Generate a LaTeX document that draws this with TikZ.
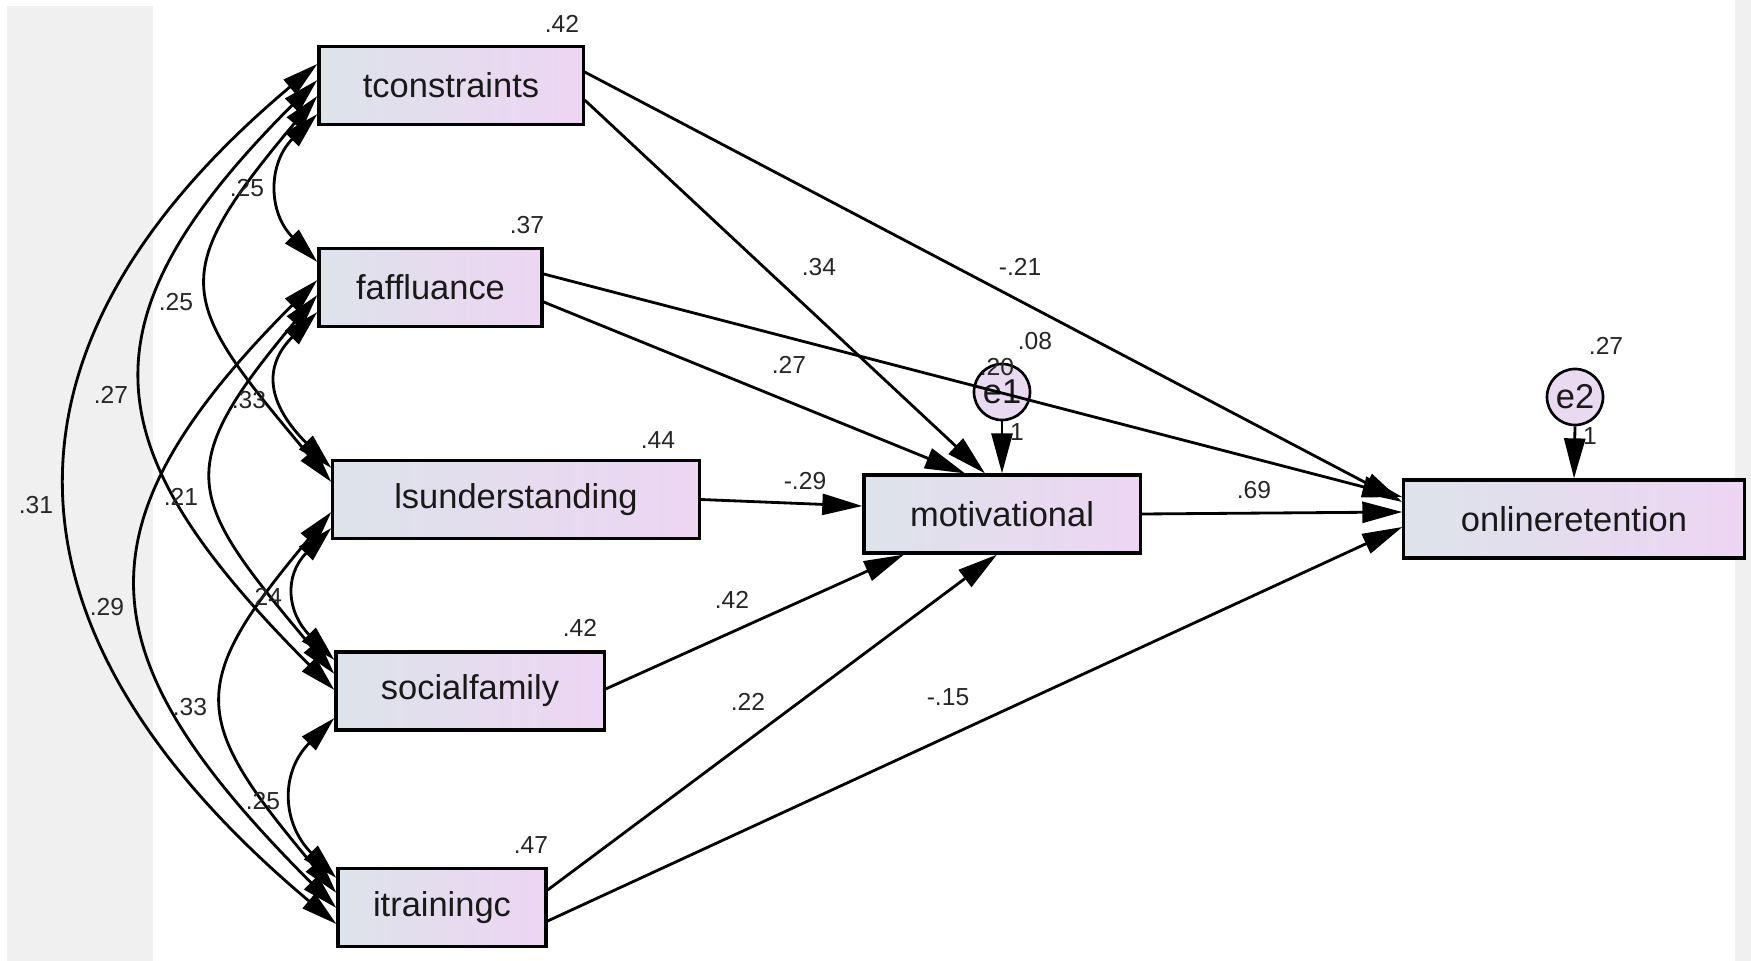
\documentclass[tikz,border=0pt]{standalone}
\usepackage{fontspec}
\setmainfont{Liberation Sans}
\usetikzlibrary{arrows.meta}
\definecolor{boxleft}{HTML}{DDE3EA}
\definecolor{boxright}{HTML}{EDD5F3}
\definecolor{errfill}{HTML}{E9D9F1}
\definecolor{framegray}{HTML}{F0F0F0}
\tikzset{
  var/.style={draw, line width=0.9pt, left color=boxleft, right color=boxright,
    inner sep=0pt, minimum height=0.78cm, text=black!90,
    font=\fontsize{9.8}{11}\selectfont},
  err/.style={draw, circle, line width=0.75pt, fill=errfill, minimum size=0.56cm,
    inner sep=0pt, text=black!90, font=\fontsize{9.8}{11}\selectfont},
  est/.style={inner sep=0pt, text=black!85, font=\fontsize{7}{8}\selectfont},
  reg/.style={line width=0.8pt, -{Triangle[length=0.4cm,width=0.21cm]}},
  cov/.style={line width=0.8pt,
    {Triangle[length=0.36cm,width=0.19cm]}-{Triangle[length=0.36cm,width=0.19cm]}},
}
\begin{document}
\begin{tikzpicture}[x=0.01cm, y=0.01cm]
    \useasboundingbox (0,0) rectangle (1751,-961);
    \fill[framegray] (7,-6) rectangle (153,-961);
    \fill[framegray] (1735,0) rectangle (1751,-961);
    \node[var, minimum width=2.64cm] (tcon) at (451,-85.5) {tconstraints};
    \node[var, minimum width=2.23cm] (faff) at (430.5,-287.5) {faffluance};
    \node[var, minimum width=3.66cm] (lsund) at (516,-499.5) {lsunderstanding};
    \node[var, minimum width=2.68cm] (socfam) at (470,-691) {socialfamily};
    \node[var, minimum width=2.08cm] (itrain) at (442,-907.5) {itrainingc};
    \node[var, minimum width=2.76cm] (motiv) at (1002,-514) {motivational};
    \node[var, minimum width=3.40cm] (onret) at (1574,-519) {onlineretention};
    \node[err] (eone) at (1002,-392) {e1};
    \node[err] (etwo) at (1575,-397) {e2};
    \draw[reg] ([yshift=-0.145cm]tcon.east) to ([xshift=-0.17cm]motiv.north);
    \draw[reg] ([yshift=0.135cm]tcon.east) to ([yshift=0.17cm]onret.west);
    \draw[reg] ([yshift=-0.145cm]faff.east) to ([xshift=-0.37cm]motiv.north);
    \draw[reg] ([yshift=0.135cm]faff.east) to ([yshift=0.22cm]onret.west);
    \draw[reg] (lsund.east) to ([yshift=0.08cm]motiv.west);
    \draw[reg] ([yshift=0.02cm]socfam.east) to ([xshift=-0.98cm]motiv.south);
    \draw[reg] ([yshift=0.175cm]itrain.east) to ([xshift=-0.05cm]motiv.south);
    \draw[reg] ([yshift=-0.135cm]itrain.east) to ([yshift=-0.08cm]onret.west);
    \draw[reg] (motiv.east) to ([yshift=0.07cm]onret.west);
    \draw[reg] (eone.south) to (motiv.north);
    \draw[reg] (etwo.south) to (onret.north);
    \draw[cov] ([yshift=-0.285cm]tcon.west) to[out=225, in=135, distance=0.70cm] ([yshift=0.255cm]faff.west);
    \draw[cov] ([yshift=-0.105cm]tcon.west) to[out=230, in=130, distance=2.38cm] ([yshift=0.175cm]lsund.west);
    \draw[cov] ([yshift=0.055cm]tcon.west) to[out=225, in=135, distance=3.42cm] ([yshift=0.01cm]socfam.west);
    \draw[cov] ([yshift=0.215cm]tcon.west) to[out=220, in=140, distance=4.48cm] ([yshift=-0.165cm]itrain.west);
    \draw[cov] ([yshift=-0.245cm]faff.west) to[out=225, in=135, distance=0.83cm] ([yshift=0.315cm]lsund.west);
    \draw[cov] ([yshift=-0.075cm]faff.west) to[out=230, in=130, distance=2.30cm] ([yshift=0.17cm]socfam.west);
    \draw[cov] ([yshift=0.075cm]faff.west) to[out=225, in=135, distance=3.52cm] ([yshift=-0.005cm]itrain.west);
    \draw[cov] ([yshift=-0.285cm]lsund.west) to[out=225, in=135, distance=0.67cm] ([yshift=0.31cm]socfam.west);
    \draw[cov] ([yshift=-0.125cm]lsund.west) to[out=230, in=130, distance=2.27cm] ([yshift=0.145cm]itrain.west);
    \draw[cov] ([yshift=-0.27cm]socfam.west) to[out=225, in=135, distance=0.77cm] ([yshift=0.295cm]itrain.west);
    \node[est] (r2tcon) at (562,-24) {.42};
    \node[est] (r2faff) at (527,-225) {.37};
    \node[est] (r2lsund) at (658,-440) {.44};
    \node[est] (r2socfam) at (580,-628) {.42};
    \node[est] (r2itrain) at (531,-845) {.47};
    \node[est] (r2motiv) at (997,-367) {.20};
    \node[est] (r2onret) at (1606,-346) {.27};
    \node[est] (wtm) at (819,-267) {.34};
    \node[est] (wto) at (1020,-267) {-.21};
    \node[est] (wfm) at (789,-365) {.27};
    \node[est] (wfo) at (1035,-341) {.08};
    \node[est] (wlm) at (805,-481) {-.29};
    \node[est] (wsm) at (732,-600) {.42};
    \node[est] (wim) at (748,-702) {.22};
    \node[est] (wio) at (948,-697) {-.15};
    \node[est] (wmo) at (1254,-490) {.69};
    \node[est] (fixone) at (1017,-432) {1};
    \node[est] (fixtwo) at (1590,-436) {1};
    \node[est] (ctf) at (247,-188) {.25};
    \node[est] (ctl) at (176,-302) {.25};
    \node[est] (cts) at (111,-395) {.27};
    \node[est] (cti) at (36,-505) {.31};
    \node[est] (cfl) at (249,-400) {.33};
    \node[est] (cfs) at (181,-497) {.21};
    \node[est] (cfi) at (107,-607) {.29};
    \node[est] (cls) at (265,-597) {.24};
    \node[est] (cli) at (190,-707) {.33};
    \node[est] (csi) at (263,-801) {.25};
\end{tikzpicture}
\end{document}
